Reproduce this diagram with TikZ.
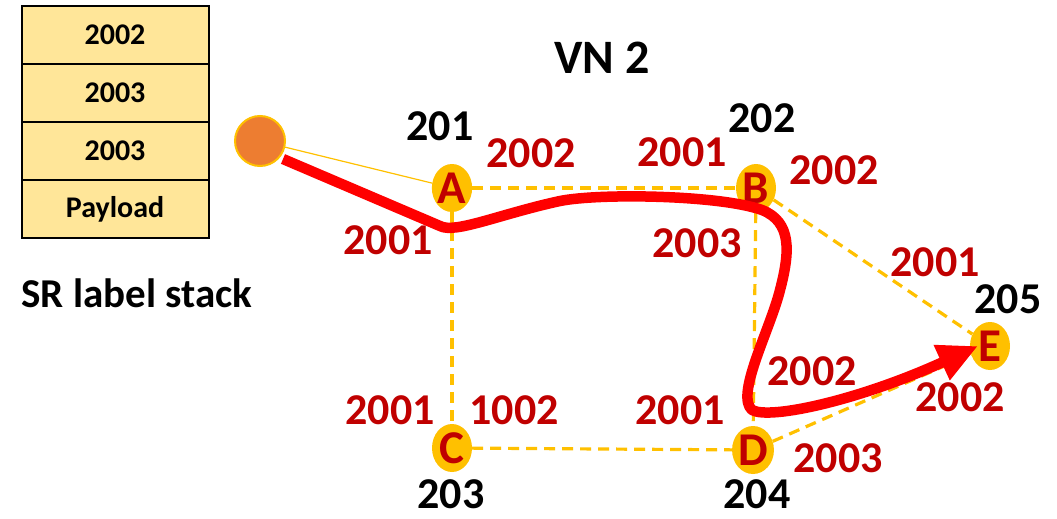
\documentclass[tikz,border=0pt]{standalone}
\usepackage{fontspec}
\setmainfont{Carlito}
\usetikzlibrary{arrows.meta,shapes.geometric}
\definecolor{gold}{HTML}{FFC000}
\definecolor{lblred}{HTML}{C00000}
\definecolor{pathred}{HTML}{FF0000}
\definecolor{cellfill}{HTML}{FFE699}
\definecolor{srcorange}{HTML}{ED7D31}
\tikzset{
  cell/.style={draw=black,line width=2pt,fill=cellfill,minimum width=187pt,minimum height=58pt,inner sep=0pt,
    font=\fontsize{30}{36}\selectfont\bfseries},
  router/.style={ellipse,fill=gold,minimum width=40pt,minimum height=48pt,inner sep=0pt,text=lblred,
    font=\fontsize{47}{52}\selectfont\bfseries},
  rid/.style={font=\fontsize{44}{50}\selectfont\bfseries,text=black,inner sep=0pt},
  sid/.style={font=\fontsize{44}{50}\selectfont\bfseries,text=lblred,inner sep=0pt},
  link/.style={draw=gold,line width=3.2pt,dash pattern=on 11pt off 7pt},
  redpath/.style={draw=pathred,line width=10.5pt,-{Triangle[length=40pt,width=36pt]}},
}
\begin{document}
\begin{tikzpicture}[x=1pt,y=-1pt]
\useasboundingbox (0,0) rectangle (1057,519);
% label stack
\node[cell] (s1) at (115,35) {2002};
\node[cell] (s2) at (115,93) {2003};
\node[cell] (s3) at (115,151) {2003};
\node[cell] (s4) at (115,209) {Payload};
\node[font=\fontsize{41}{48}\selectfont\bfseries,inner sep=0pt] (cap) at (137,293) {SR label stack};
\node[font=\fontsize{48}{56}\selectfont\bfseries,inner sep=0pt] (vn) at (602,58) {VN 2};
% source
\node[circle,fill=srcorange,draw=gold,line width=2pt,minimum size=50pt,inner sep=0pt] (src) at (260,141) {};
% routers
\node[router] (A) at (452,188) {A};
\node[router] (B) at (756,188) {B};
\node[router] (C) at (452,448) {C};
\node[router] (D) at (753,450) {D};
\node[router] (E) at (990,346) {E};
% links
\draw[draw=gold,line width=1.2pt] (src) -- (A);
\draw[link] (A) -- (B);
\draw[link] (A) -- (C);
\draw[link] (B) -- (D);
\draw[link] (C) -- (D);
\draw[link] (B) -- (E);
\draw[link] (D) -- (E);
% router ids
\node[rid] (n201) at (440,126) {201};
\node[rid] (n202) at (762,118) {202};
\node[rid] (n203) at (451,494) {203};
\node[rid] (n204) at (757,494) {204};
\node[rid] (n205) at (1008,299) {205};
% segment ids
\node[sid] (l1) at (531,153) {2002};
\node[sid] (l2) at (682,152) {2001};
\node[sid] (l3) at (834,170) {2002};
\node[sid] (l4) at (388,240) {2001};
\node[sid] (l5) at (697,243) {2003};
\node[sid] (l6) at (935,262) {2001};
\node[sid] (l7) at (812,371) {2002};
\node[sid] (l8) at (390,410) {2001};
\node[sid] (l9) at (514,410) {1002};
\node[sid] (l10) at (680,410) {2001};
\node[sid] (l11) at (960,397) {2002};
\node[sid] (l12) at (838,458) {2003};
% red path
\coordinate (p0) at (283,159);
\coordinate (pe) at (978,346);
\draw[redpath,line join=round] (p0) -- (440,226)
  .. controls (455,234) and (500,214) .. (560,201)
  .. controls (600,193) and (720,195) .. (762,210)
  .. controls (792,222) and (790,252) .. (780,290)
  .. controls (770,330) and (735,395) .. (752,410)
  .. controls (770,420) and (860,400) .. (pe);
\end{tikzpicture}
\end{document}
